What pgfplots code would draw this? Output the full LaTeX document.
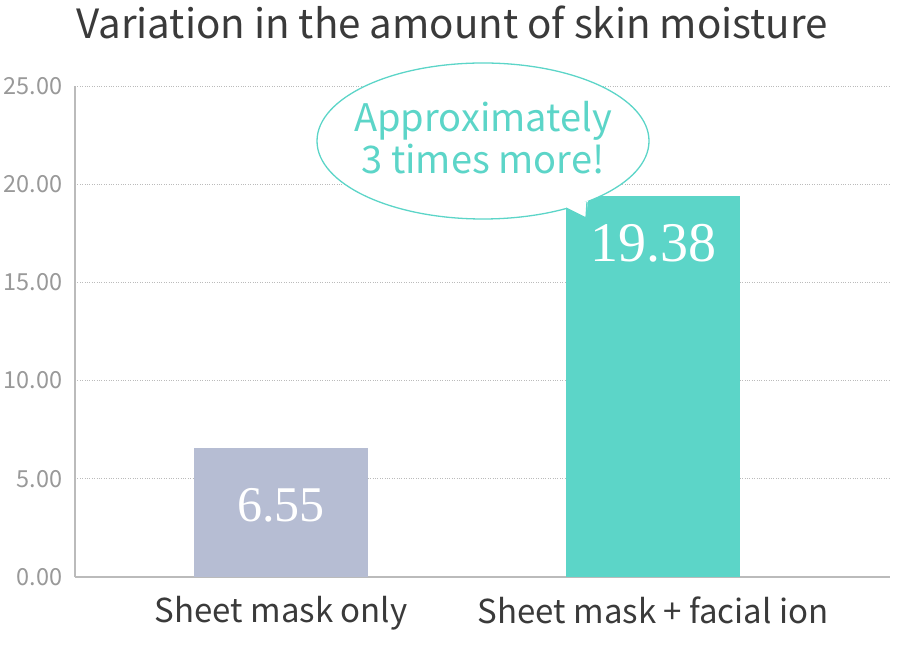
\documentclass[border=0pt]{standalone}
\usepackage{fontspec}
\setmainfont{Noto Sans CJK JP}
\newfontfamily\numfont{Liberation Serif}
\usepackage{pgfplots}
\pgfplotsset{compat=1.18}
\definecolor{myteal}{HTML}{5CD5C8}
\definecolor{mybar}{HTML}{B6BDD3}
\definecolor{tickgray}{HTML}{999999}
\definecolor{titlegray}{HTML}{3A3A3A}
\definecolor{axgray}{HTML}{BBBBBB}
\begin{document}
\begin{tikzpicture}[x=1pt,y=1pt]
\path[use as bounding box] (0,0) rectangle (901,650);
\begin{axis}[
  at={(75pt,73pt)}, anchor=south west,
  scale only axis, width=815pt, height=491pt,
  xmin=-0.554, xmax=1.637, ymin=0, ymax=25,
  axis x line*=bottom, axis y line*=left,
  axis line style={axgray, line width=1.2pt},
  ytick={0,5,10,15,20,25},
  ymajorgrids, grid style={dotted, axgray, line width=0.9pt},
  yticklabel style={tickgray, font=\fontsize{23.5}{27}\selectfont, xshift=-9pt},
  /pgf/number format/.cd, fixed, fixed zerofill, precision=2, assume math mode=true,
  /pgfplots/.cd,
  xtick={0,1}, xticklabels={Sheet mask only, Sheet mask + facial ion},
  xticklabel style={titlegray, font=\fontsize{33}{38}\selectfont, yshift=-16pt},
  major tick length=0pt,
  ybar, bar width=174pt, bar shift=0pt,
]
\addplot[fill=mybar, draw=none] coordinates {(0,6.55)};
\addplot[fill=myteal, draw=none] coordinates {(1,19.38)};
\node[white, font=\numfont\fontsize{50}{60}\selectfont] at (axis cs:0,3.65) {6.55};
\node[white, font=\numfont\fontsize{56}{66}\selectfont] at (axis cs:1,17.0) {19.38};
\end{axis}
% title
\node[anchor=west, titlegray, font=\fontsize{40.3}{48}\selectfont, inner sep=0pt] at (76,628) {Variation in the amount of skin moisture};
% speech bubble
\filldraw[fill=white, draw=myteal, line width=1.3pt] (483,509) ellipse [x radius=166, y radius=78];
\fill[white] (563,443.5) -- (586,432) -- (588,449) -- cycle;
\draw[myteal, line width=1.3pt, line join=miter] (566,442) -- (586,432) -- (587,448);
\node[myteal, font=\fontsize{38}{44}\selectfont, align=center, inner sep=0pt] at (483,512) {Approximately\\[-2pt]3 times more!};
\end{tikzpicture}
\end{document}
